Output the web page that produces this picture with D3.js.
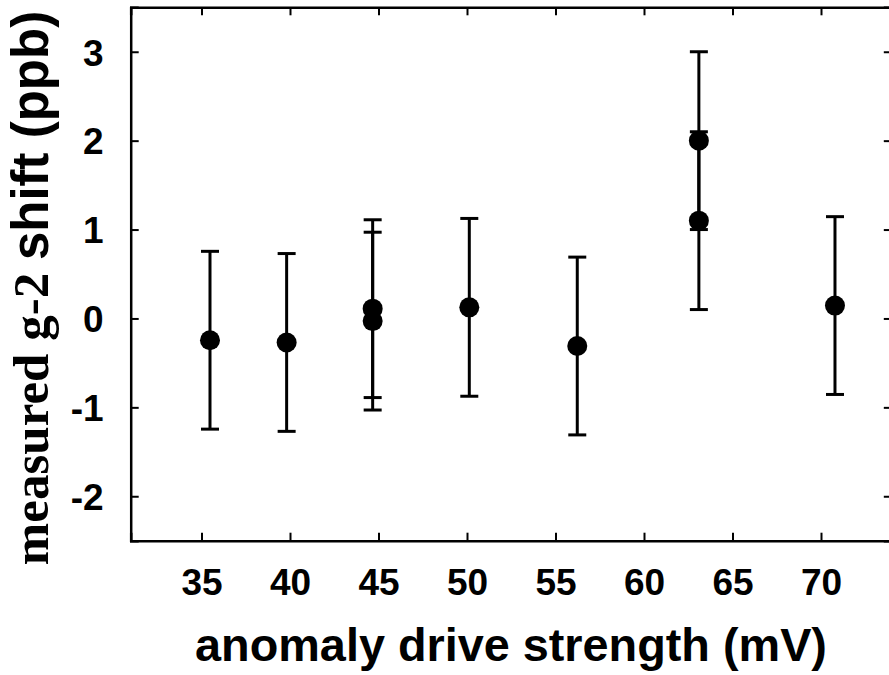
<!DOCTYPE html>
<html><head><meta charset="utf-8">
<script src="https://cdn.jsdelivr.net/npm/d3@7"></script>
<style>body{margin:0;background:#fff;}svg{display:block;}</style>
</head><body>
<svg id="c" width="889" height="675"></svg>
<script>
// data
const driveStrength = [35.48, 39.81, 44.67, 44.67, 50.13, 56.23, 63.1, 63.1, 70.79];
const g2Shift      = [-0.245, -0.27, 0.11, -0.03, 0.125, -0.31, 2.0, 1.1, 0.145];
const g2Error      = [1.0, 1.0, 1.0, 1.0, 1.0, 1.0, 1.0, 1.0, 1.0];
const xTicks = [35, 40, 45, 50, 55, 60, 65, 70];
const yTicks = [-2, -1, 0, 1, 2, 3];

const svg = d3.select("#c");
const L = 130.7, R = 891.8, T = 7.3, B = 540.7;
const x = d3.scaleLinear().domain([31, 74]).range([L, R]);
const y = d3.scaleLinear().domain([-2.5, 3.5]).range([B, T]);

const sans = "'Liberation Sans', Arial, Helvetica, sans-serif";
const serif = "'Liberation Serif', 'Times New Roman', serif";
const fmt = d => String(d); // plain hyphen for negatives

// axes with inward ticks
const tickLen = 8;
const gB = svg.append("g").attr("transform", `translate(0,${B})`)
  .call(d3.axisBottom(x).tickValues(xTicks).tickSize(-tickLen).tickPadding(54).tickFormat(fmt));
const gT = svg.append("g").attr("transform", `translate(0,${T})`)
  .call(d3.axisTop(x).tickValues(xTicks).tickSize(-tickLen).tickFormat(""));
const gL = svg.append("g").attr("transform", `translate(${L},0)`)
  .call(d3.axisLeft(y).tickValues(yTicks).tickSize(-tickLen).tickPadding(27).tickFormat(fmt));
const gR = svg.append("g").attr("transform", `translate(${R},0)`)
  .call(d3.axisRight(y).tickValues(yTicks).tickSize(-tickLen).tickFormat(""));

[gB, gT, gL, gR].forEach(g => {
  g.select(".domain").attr("stroke", "#000").attr("stroke-width", 2.5);
  g.selectAll(".tick line").attr("stroke", "#000").attr("stroke-width", 2);
  g.selectAll(".tick text").attr("fill", "#000").style("font-family", sans)
    .style("font-weight", "bold").style("font-size", "37px");
});
gB.selectAll(".tick text").attr("dy", "0");
gL.selectAll(".tick text").attr("dy", "0.36em");

// error bars
const pts = driveStrength.map((d, i) => ({x: d, y: g2Shift[i], e: g2Error[i]}));
const capW = 9;
const eb = svg.append("g").attr("stroke", "#000").attr("stroke-width", 3);
eb.selectAll("line.v").data(pts).join("line").attr("class", "v")
  .attr("x1", d => x(d.x)).attr("x2", d => x(d.x))
  .attr("y1", d => y(d.y + d.e)).attr("y2", d => y(d.y - d.e));
eb.selectAll("line.t").data(pts).join("line").attr("class", "t")
  .attr("x1", d => x(d.x) - capW).attr("x2", d => x(d.x) + capW)
  .attr("y1", d => y(d.y + d.e)).attr("y2", d => y(d.y + d.e));
eb.selectAll("line.b").data(pts).join("line").attr("class", "b")
  .attr("x1", d => x(d.x) - capW).attr("x2", d => x(d.x) + capW)
  .attr("y1", d => y(d.y - d.e)).attr("y2", d => y(d.y - d.e));

svg.append("g").selectAll("circle").data(pts).join("circle")
  .attr("cx", d => x(d.x)).attr("cy", d => y(d.y)).attr("r", 10).attr("fill", "#000");

// axis titles
svg.append("text").attr("x", 511).attr("y", 661).attr("text-anchor", "middle")
  .style("font-family", sans).style("font-weight", "bold").style("font-size", "46.8px")
  .text("anomaly drive strength (mV)");

const yt = svg.append("text").attr("transform", "translate(48,288) rotate(-90)")
  .attr("text-anchor", "middle").style("font-weight", "bold").style("font-size", "51px");
yt.append("tspan").style("font-family", serif).text("measured g-2 ");
yt.append("tspan").style("font-family", sans).text("shift (ppb)");
</script>
</body></html>
